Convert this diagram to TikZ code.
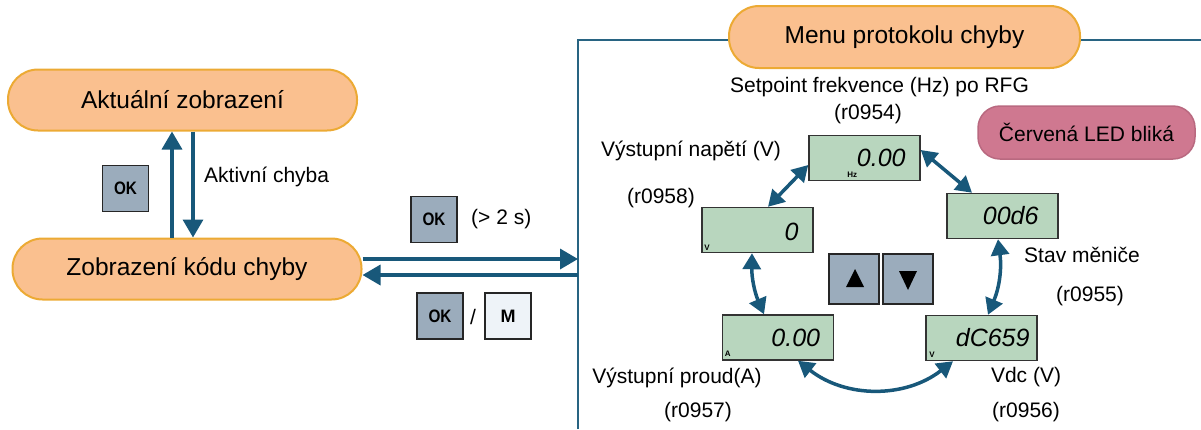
\documentclass[tikz,border=0pt]{standalone}
\usepackage{fontspec}
\setmainfont{Liberation Sans}
\usetikzlibrary{arrows.meta}
\definecolor{pillfill}{RGB}{250,192,143}
\definecolor{pillline}{RGB}{236,170,52}
\definecolor{arrowc}{RGB}{24,88,122}
\definecolor{framec}{RGB}{40,100,130}
\definecolor{lcdfill}{RGB}{184,214,190}
\definecolor{keyfill}{RGB}{155,172,188}
\definecolor{mfill}{RGB}{238,243,248}
\definecolor{ledfill}{RGB}{207,120,144}
\definecolor{ledline}{RGB}{185,105,128}
\tikzset{
 pill/.style={draw=pillline, fill=pillfill, line width=2pt, rounded corners=30pt, minimum width=349pt, minimum height=61pt, inner sep=0pt, font=\fontsize{24.5}{29}\selectfont},
 lcd/.style={draw=black!80, fill=lcdfill, line width=1.5pt, minimum width=111pt, minimum height=45pt, inner sep=0pt},
 digits/.style={font=\fontsize{25}{25}\selectfont\itshape, inner sep=0pt, anchor=east},
 unit/.style={font=\fontsize{8}{8}\selectfont\bfseries, inner sep=0pt, anchor=south west},
 key/.style={draw=black!85, fill=keyfill, line width=1.5pt, minimum width=46pt, minimum height=46pt, inner sep=0pt, font=\fontsize{18}{18}\selectfont\bfseries},
 lbl/.style={font=\fontsize{21}{25}\selectfont, inner sep=0pt},
 arr/.style={draw=arrowc, line width=3.5pt, -{Triangle[length=18pt,width=20pt]}},
 darr/.style={draw=arrowc, line width=3.5pt, {Triangle[length=16pt,width=18pt]}-{Triangle[length=16pt,width=18pt]}},
 frame/.style={draw=framec, line width=1.8pt},
}
\begin{document}
\begin{tikzpicture}[x=1pt,y=-1pt]
\useasboundingbox (0,0) rectangle (1201,429);
% frame
\coordinate (ftl) at (578,40);
\coordinate (fbl) at (578,429);
\coordinate (ftr) at (1201,40);
\draw[frame] (fbl) -- (ftl) -- (ftr);
% pills
\node[pill] (cur) at (182.5,100) {Aktuální zobrazení};
\node[pill] (err) at (187,269) {Zobrazení kódu chyby};
\node[pill, minimum width=351pt, minimum height=62pt] (menu) at (904.5,37) {Menu protokolu chyby};
% left arrows
\coordinate (ua) at ([xshift=-15pt]err.north);
\draw[arr] (ua) -- (ua |- cur.south);
\coordinate (da) at ([xshift=10.5pt]cur.south);
\draw[arr] (da) -- (da |- err.north);
\node[key] (okA) at (125.5,188.5) {\scalebox{0.85}[1]{OK}};
\node[lbl, anchor=west] (act) at (204,177) {Aktivní chyba};
% middle arrows
\node[key] (okB) at (434,219.5) {\scalebox{0.85}[1]{OK}};
\node[lbl, anchor=west] (gt) at (471,219) {(> 2 s)};
\coordinate (r1) at (578,259);
\coordinate (r2) at (578,275);
\draw[arr] ([yshift=10pt]err.east) -- (r1);
\draw[arr] (r2) -- ([yshift=-6pt]err.east);
\node[key] (okC) at (440,316) {\scalebox{0.85}[1]{OK}};
\node[lbl] (sl) at (473,317) {/};
\node[key, fill=mfill] (mk) at (508,316) {M};
% labels
\node[lbl] (l54a) at (879.5,87) {Setpoint frekvence (Hz) po RFG};
\node[lbl] (l54b) at (868,114) {(r0954)};
\node[lbl] (l58a) at (691,151) {Výstupní napětí (V)};
\node[lbl] (l58b) at (661,198) {(r0958)};
\node[lbl] (l55a) at (1082,255) {Stav měniče};
\node[lbl] (l55b) at (1090,296) {(r0955)};
\node[lbl] (l57a) at (677,378) {Výstupní proud(A)};
\node[lbl] (l57b) at (698,412) {(r0957)};
\node[lbl] (l56a) at (1026,377) {Vdc (V)};
\node[lbl] (l56b) at (1026,412) {(r0956)};
\node[lbl, draw=ledline, fill=ledfill, line width=1.5pt, rounded corners=22pt, minimum width=217pt, minimum height=53pt] (led) at (1086.5,132.5) {Červená LED bliká};
% displays
\node[lcd] (dHz) at (864.5,158) {};
\node[digits] (vHz) at ([xshift=-15pt]dHz.east) {0.00};
\node[unit] (uHz) at ([shift={(39,-4)}]dHz.south west) {Hz};
\node[lcd] (dSt) at (1002.5,216) {};
\node[digits] (vSt) at ([xshift=-20pt]dSt.east) {00d6};
\node[lcd] (dV) at (757.5,230) {};
\node[digits] (vV) at ([xshift=-15pt,yshift=-2pt]dV.east) {0};
\node[unit] (uV) at ([shift={(3,-3)}]dV.south west) {V};
\node[lcd] (dA) at (778,337.5) {};
\node[digits] (vA) at ([xshift=-14pt]dA.east) {0.00};
\node[unit] (uA) at ([shift={(3,-4)}]dA.south west) {A};
\node[lcd] (dDC) at (981.5,338) {};
\node[digits] (vDC) at ([xshift=-8pt]dDC.east) {dC659};
\node[unit] (uDC) at ([shift={(4,-4)}]dDC.south west) {V};
% up/down keys
\node[key, minimum width=50pt, minimum height=50pt] (up) at (854,279) {};
\node[key, minimum width=50pt, minimum height=50pt] (dn) at (908,279) {};
\fill ([shift={(1,-10)}]up.center) -- ([shift={(-8,8)}]up.center) -- ([shift={(10,8)}]up.center) -- cycle;
\fill ([shift={(0,11)}]dn.center) -- ([shift={(-9,-8)}]dn.center) -- ([shift={(9,-8)}]dn.center) -- cycle;
% display connectors
\draw[darr] ([yshift=-7pt]dHz.west) -- ([xshift=10.5pt]dV.north);
\draw[darr] ([yshift=8pt]dHz.east) -- ([xshift=-30.5pt]dSt.north);
\draw[darr] ([xshift=-4.5pt]dSt.south) to[bend left=15] ([xshift=6.5pt]dDC.north);
\draw[darr] ([xshift=-28.5pt]dDC.south) to[bend left=38] ([xshift=20pt]dA.south);
\draw[darr] ([xshift=-14pt]dA.north) to[bend left=12] ([xshift=-5.5pt]dV.south);
\end{tikzpicture}
\end{document}
